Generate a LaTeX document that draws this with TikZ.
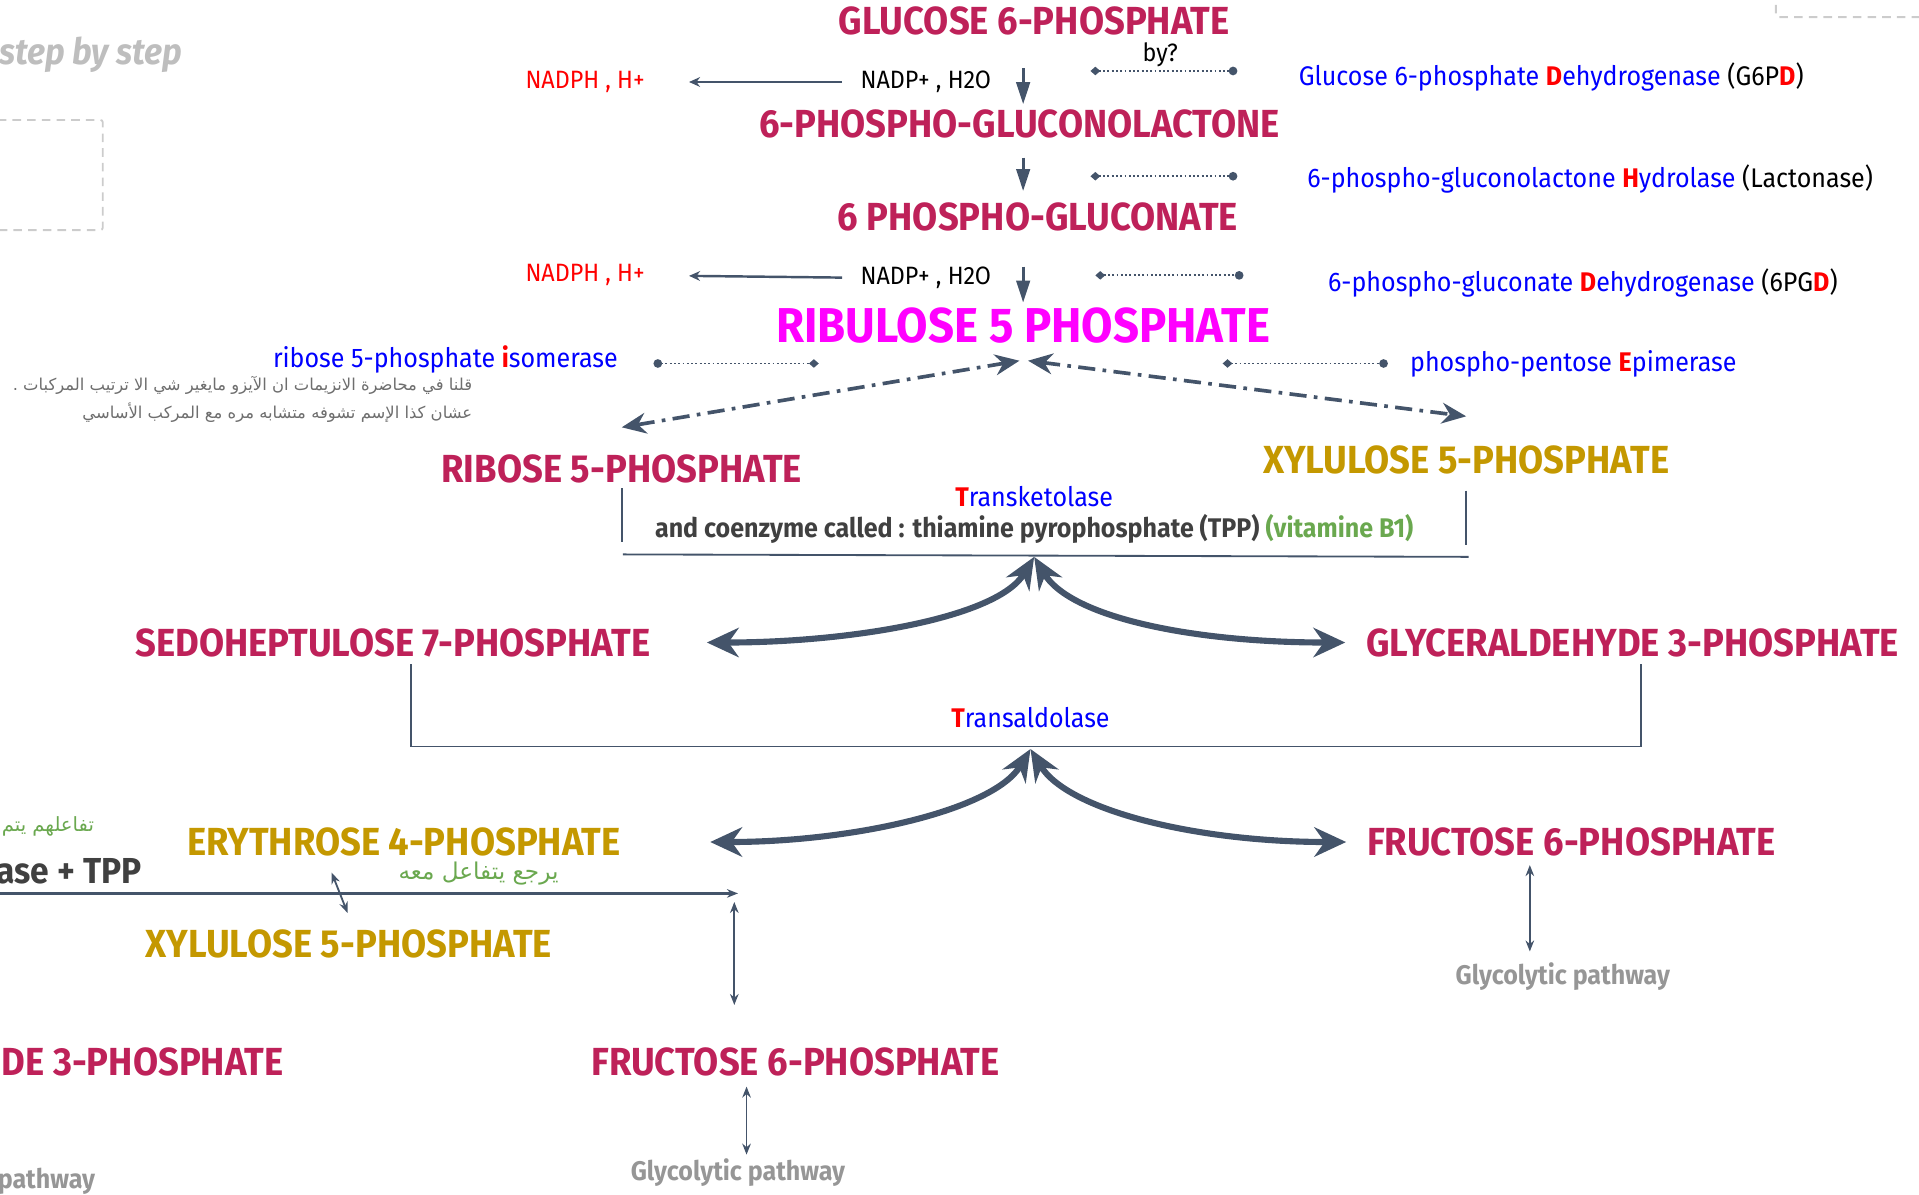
\documentclass[tikz,border=0pt]{standalone}
\usepackage{fontspec}
\setmainfont{Fira Sans}[FakeStretch=0.93]
\newfontfamily\arabicfont[Script=Arabic]{DejaVu Sans}
\TeXXeTstate=1
\usetikzlibrary{arrows.meta}
\definecolor{crimson}{RGB}{190,33,89}
\definecolor{goldc}{RGB}{196,152,0}
\definecolor{ribpink}{RGB}{255,0,255}
\definecolor{slate}{RGB}{68,84,106}
\definecolor{enzblue}{RGB}{0,0,255}
\definecolor{leaf}{RGB}{106,168,79}
\definecolor{glygray}{RGB}{150,150,150}
\definecolor{stepgray}{RGB}{190,190,190}
\definecolor{notegray}{RGB}{110,110,110}
\definecolor{darktext}{RGB}{64,64,64}
\definecolor{boxgray}{RGB}{204,204,204}
\newcommand{\redl}[1]{\textcolor{red}{\textbf{#1}}}

\begin{document}
\begin{tikzpicture}[x=1pt,y=-1pt]
        \tikzstyle{title}=[inner sep=0pt,font=\fontsize{32}{34}\selectfont\bfseries,text=crimson]
        \tikzstyle{golden}=[title,text=goldc]
        \tikzstyle{enz}=[inner sep=0pt,font=\fontsize{22}{24}\selectfont,text=enzblue]
        \tikzstyle{cofac}=[inner sep=0pt,font=\fontsize{20.5}{22}\selectfont]
        \tikzstyle{glyc}=[inner sep=0pt,font=\fontsize{22}{24}\selectfont\bfseries,text=glygray]
        \tikzstyle{note}=[inner sep=0pt,font=\arabicfont\fontsize{13.4}{15}\selectfont,text=notegray]
        \tikzstyle{greennote}=[inner sep=0pt,font=\arabicfont\fontsize{18.9}{20}\selectfont,text=leaf]
        \tikzstyle{down}=[draw=slate,line width=2.5pt,-{Triangle[length=18pt,width=11pt]}]
        \tikzstyle{side}=[draw=slate,line width=2pt,-{Stealth[length=9pt,width=8pt]}]
        \tikzstyle{bylink}=[draw=slate,line width=1.5pt,dotted,{Diamond[length=8pt,width=7pt]}-{Circle[length=7pt]}]
        \tikzstyle{dashdot}=[draw=slate,line width=3pt,dash pattern=on 14pt off 6pt on 3pt off 6pt,{Stealth[length=20pt,width=17pt]}-{Stealth[length=20pt,width=17pt]}]
        \tikzstyle{bar}=[draw=slate,line width=1.5pt]
        \tikzstyle{swing}=[draw=slate,line width=5pt,{Stealth[length=26pt,width=22pt]}-{Stealth[length=26pt,width=24pt]}]
        \tikzstyle{dbl}=[draw=slate,line width=1.5pt,{Stealth[length=9pt,width=7pt]}-{Stealth[length=9pt,width=7pt]}]
        \tikzstyle{dashbox}=[draw=boxgray,line width=1.5pt,dash pattern=on 7pt off 5pt,rounded corners=2pt]
        \useasboundingbox (0,0) rectangle (1568,976);

        \draw[dashbox] (-10,98) rectangle (84,188);
        \draw[dashbox] (1451,-10) rectangle (1580,14);
        \node [inner sep=0pt,anchor=west,font=\fontsize{29.7}{31}\selectfont\bfseries\itshape,text=stepgray] (step) at (-1,45) {step by step};

        \node [title] (g6p) at (845,17) {GLUCOSE 6-PHOSPHATE};
        \node [title] (pgl) at (833,101) {6-PHOSPHO-GLUCONOLACTONE};
        \node [title] (pg) at (848,177) {6 PHOSPHO-GLUCONATE};
        \node [inner sep=0pt,font=\fontsize{40}{42}\selectfont\bfseries,text=ribpink] (ru5p) at (836,266) {RIBULOSE 5 PHOSPHATE};
        \node [title] (r5p) at (508,383) {RIBOSE 5-PHOSPHATE};
        \node [golden] (x5p) at (1198,376) {XYLULOSE 5-PHOSPHATE};
        \node [title] (s7p) at (321,525) {SEDOHEPTULOSE 7-PHOSPHATE};
        \node [title] (g3p) at (1334,525) {GLYCERALDEHYDE 3-PHOSPHATE};
        \node [golden] (e4p) at (330,688) {ERYTHROSE 4-PHOSPHATE};
        \node [title] (f6p) at (1284,688) {FRUCTOSE 6-PHOSPHATE};
        \node [golden] (x5pb) at (285,771) {XYLULOSE 5-PHOSPHATE};
        \node [title,anchor=east] (g3pb) at (232,868) {DE 3-PHOSPHATE};
        \node [title] (f6pb) at (650,868) {FRUCTOSE 6-PHOSPHATE};

        \node [cofac,text=red,anchor=east] (nadph1) at (527,67) {NADPH , H+};
        \node [cofac,anchor=west] (nadp1) at (703,67) {NADP+ , H2O};
        \node [cofac] (by) at (948,45) {by?};
        \node [cofac,text=red,anchor=east] (nadph2) at (527,225) {NADPH , H+};
        \node [cofac,anchor=west] (nadp2) at (703,227) {NADP+ , H2O};

        \node [enz,anchor=west] (g6pd) at (1061,63) {Glucose 6-phosphate \redl{D}ehydrogenase \textcolor{black}{(G6P\redl{D})}};
        \node [enz,anchor=west] (lact) at (1068,146) {6-phospho-gluconolactone \redl{H}ydrolase \textcolor{black}{(Lactonase)}};
        \node [enz,anchor=west] (pgd) at (1085,231) {6-phospho-gluconate \redl{D}ehydrogenase \textcolor{black}{(6PG\redl{D})}};
        \node [enz,anchor=east] (rpi) at (505,294) {ribose 5-phosphate \redl{i}somerase};
        \node [enz,anchor=west] (rpe) at (1152,297) {phospho-pentose \redl{E}pimerase};
        \node [enz] (tkt) at (845,406) {\redl{T}ransketolase};
        \node [enz] (trans) at (842,586) {\redl{T}ransaldolase};
        \node [inner sep=0pt,font=\fontsize{22}{24}\selectfont\bfseries,text=darktext] (coenz) at (845,432) {and coenzyme called : thiamine pyrophosphate (TPP) \textcolor{leaf}{(vitamine B1)}};
        \node [inner sep=0pt,anchor=west,font=\fontsize{29.5}{31}\selectfont\bfseries,text=darktext] (tpp) at (-3,712) {ase + TPP};

        \node [note,anchor=east] (note1) at (386,315) {\beginR قلنا في محاضرة الانزيمات ان الآيزو مايغير شي الا ترتيب المركبات .\endR};
        \node [note,anchor=east] (note2) at (386,337) {\beginR عشان كذا الإسم تشوفه متشابه مره مع المركب الأساسي\endR};
        \node [greennote,anchor=east,font=\arabicfont\fontsize{16}{18}\selectfont] (their) at (77,675) {\beginR تفاعلهم يتم\endR};
        \node [greennote] (back) at (391,714) {\beginR يرجع يتفاعل معه\endR};

        \node [glyc] (gly) at (1277,798) {Glycolytic pathway};
        \node [glyc] (glyb) at (603,958) {Glycolytic pathway};
        \node [glyc,anchor=west] (glyl) at (-2,965) {pathway};

        \path[down,shorten <=27pt,shorten >=4pt] (g6p.south -| ru5p) -- (pgl.north -| ru5p);
        \path[down,shorten <=16pt,shorten >=9pt] (pgl.south -| ru5p) -- (pg.north -| ru5p);
        \path[down,shorten <=29pt,shorten >=4pt] (pg.south -| ru5p) -- (ru5p.north);
        \path[side,shorten <=15pt,shorten >=36pt] (nadp1.west) -- (nadph1.east);
        \path[side,shorten <=15pt,shorten >=36pt] (nadp2.west) -- (nadph2.east);

        \coordinate (by1) at (891,58);
        \coordinate (by2) at (891,144);
        \coordinate (by3) at (895,225);
        \coordinate (iso) at (669,297);
        \coordinate (epi) at (999,297);
        \path[bylink,shorten >=50pt] (by1) -- (by1 -| g6pd.west);
        \path[bylink,shorten >=57pt] (by2) -- (by2 -| lact.west);
        \path[bylink,shorten >=69pt] (by3) -- (by3 -| pgd.west);
        \path[bylink,shorten >=18pt] (epi) -- (epi -| rpe.west);
        \path[bylink,shorten <=29pt,{Circle[length=7pt]}-{Diamond[length=8pt,width=7pt]}] (rpi.east |- iso) -- (iso);

        \path[dashdot] ([xshift=-3pt,yshift=-14pt]ru5p.south) -- ([yshift=22pt]r5p.north);
        \path[dashdot] ([xshift=4pt,yshift=-14pt]ru5p.south) -- ([yshift=24pt]x5p.north);

        \coordinate (tkl) at (509,453);
        \coordinate (tkr) at (1200,455);
        \coordinate (tkm) at (845,455);
        \path[bar] (tkl) -- (tkr);
        \path[bar] ([yshift=-4pt]r5p.south) -- ([yshift=10pt]r5p.south |- tkl);
        \path[bar] ([yshift=-13pt]x5p.south) -- ([yshift=10pt]x5p.south |- tkr);
        \path[swing,shorten >=46pt] (tkm) .. controls +(-30,50) and +(163,0) .. (s7p.east);
        \path[swing,shorten >=17pt] (tkm) .. controls +(30,50) and +(-140,0) .. (g3p.west);

        \coordinate (tsl) at (336,610);
        \coordinate (tsr) at (1341,610);
        \coordinate (tsm) at (842,612);
        \path[bar] (tsl) -- (tsr);
        \path[bar,shorten <=6pt] (tsl |- s7p.south) -- (tsl);
        \path[bar,shorten <=6pt] (tsr |- g3p.south) -- (tsr);
        \path[swing,shorten >=73pt] (tsm) .. controls +(-30,50) and +(190,0) .. (e4p.east);
        \path[swing,shorten >=17pt] (tsm) .. controls +(30,50) and +(-140,0) .. (f6p.west);

        \coordinate (lnk) at (-5,730);
        \coordinate (lnkend) at (603,730);
        \coordinate (sw1) at (271,713);
        \coordinate (sw2) at (284,746);
        \coordinate (v1) at (600,737);
        \path[draw=slate,line width=2pt,-{Stealth[length=9pt,width=7pt]}] (lnk) -- (lnkend);
        \path[dbl] (sw1) -- (sw2);
        \path[dbl,shorten >=35pt] (v1) -- (v1 |- f6pb.north);
        \path[dbl,shorten <=3pt,shorten >=8pt] ([xshift=7pt]glyb.north) -- ([xshift=7pt]glyb.north |- f6pb.south);
        \path[dbl,shorten <=9pt,shorten >=7pt] ([xshift=-27pt]gly.north) -- ([xshift=-27pt]gly.north |- f6p.south);
\end{tikzpicture}
\end{document}
